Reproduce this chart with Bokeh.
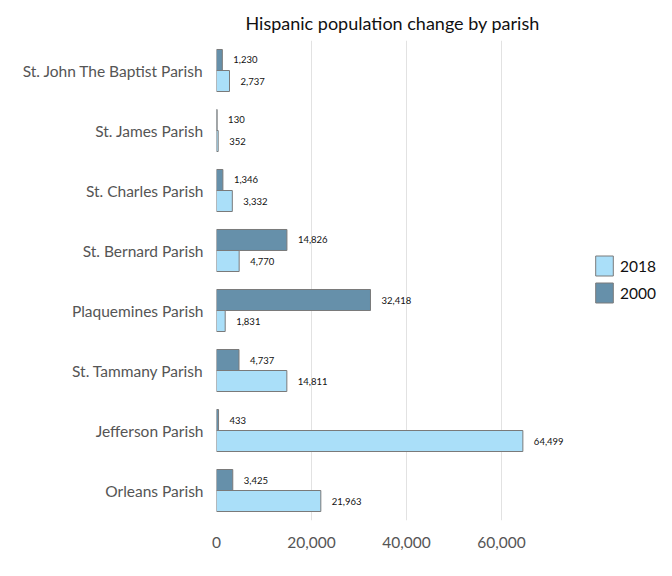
from bokeh.plotting import figure
from bokeh.models import ColumnDataSource, Range1d, FactorRange, Legend, LegendItem, NumeralTickFormatter, FixedTicker
from bokeh.transform import dodge
from bokeh.core.properties import value
from bokeh.embed import file_html
from bokeh.resources import INLINE

parishes = ["Orleans Parish", "Jefferson Parish", "St. Tammany Parish", "Plaquemines Parish",
            "St. Bernard Parish", "St. Charles Parish", "St. James Parish", "St. John The Baptist Parish"]
values_2000 = [3425, 433, 4737, 32418, 14826, 1346, 130, 1230]
values_2018 = [21963, 64499, 14811, 1831, 4770, 3332, 352, 2737]
x_ticks = [0, 20000, 40000, 60000]

FONT = "Lato"
src = ColumnDataSource(dict(
    parish=parishes,
    v2000=values_2000,
    v2018=values_2018,
    l2000=[f"{v:,}" for v in values_2000],
    l2018=[f"{v:,}" for v in values_2018],
))

p = figure(y_range=FactorRange(*parishes), x_range=Range1d(0, 96000),
           width=672, height=576, output_backend="svg", toolbar_location=None,
           min_border_left=216, min_border_top=40, min_border_bottom=56, min_border_right=0,
           title="Hispanic population change by parish")
p.title.text_font = FONT
p.title.text_font_size = "18px"
p.title.text_font_style = "normal"
p.title.align = "left"
p.title.offset = 29
p.title.standoff = 13
p.title.text_color = "#111111"

r00 = p.hbar(y=dodge("parish", 0.175, range=p.y_range), right="v2000", left=0, height=0.35,
             source=src, fill_color="#6690AA", line_color="#7a7a7a", line_width=1)
r18 = p.hbar(y=dodge("parish", -0.175, range=p.y_range), right="v2018", left=0, height=0.35,
             source=src, fill_color="#AADFF9", line_color="#7a7a7a", line_width=1)

p.text(x="v2000", y=dodge("parish", 0.175, range=p.y_range), text="l2000", source=src,
       x_offset=11, text_baseline="middle", text_font_size="9.5px", text_font=value(FONT), text_color="#111111")
p.text(x="v2018", y=dodge("parish", -0.175, range=p.y_range), text="l2018", source=src,
       x_offset=11, text_baseline="middle", text_font_size="9.5px", text_font=value(FONT), text_color="#111111")

legend = Legend(items=[LegendItem(label="2018", renderers=[r18]), LegendItem(label="2000", renderers=[r00])],
                location=(373, 211), glyph_width=22, glyph_height=25, spacing=2,
                label_text_font=FONT, label_text_font_size="15.5px", label_text_color="#111111",
                border_line_alpha=0, background_fill_alpha=0, padding=4, margin=0)
p.add_layout(legend)

p.xaxis.ticker = FixedTicker(ticks=x_ticks)
p.xaxis.formatter = NumeralTickFormatter(format="0,0")
for ax in (p.xaxis[0], p.yaxis[0]):
    ax.axis_line_color = None
    ax.major_tick_line_color = None
    ax.minor_tick_line_color = None
    ax.major_label_text_font = FONT
    ax.major_label_text_font_size = "15.5px"
    ax.major_label_text_color = "#555555"
p.xaxis.major_label_standoff = 10
p.yaxis.major_label_standoff = 7
p.ygrid.grid_line_color = None
p.xgrid.grid_line_color = "#e2e2e2"
p.outline_line_color = None
p.background_fill_color = "white"

open("out.html", "w").write(file_html(p, INLINE))
